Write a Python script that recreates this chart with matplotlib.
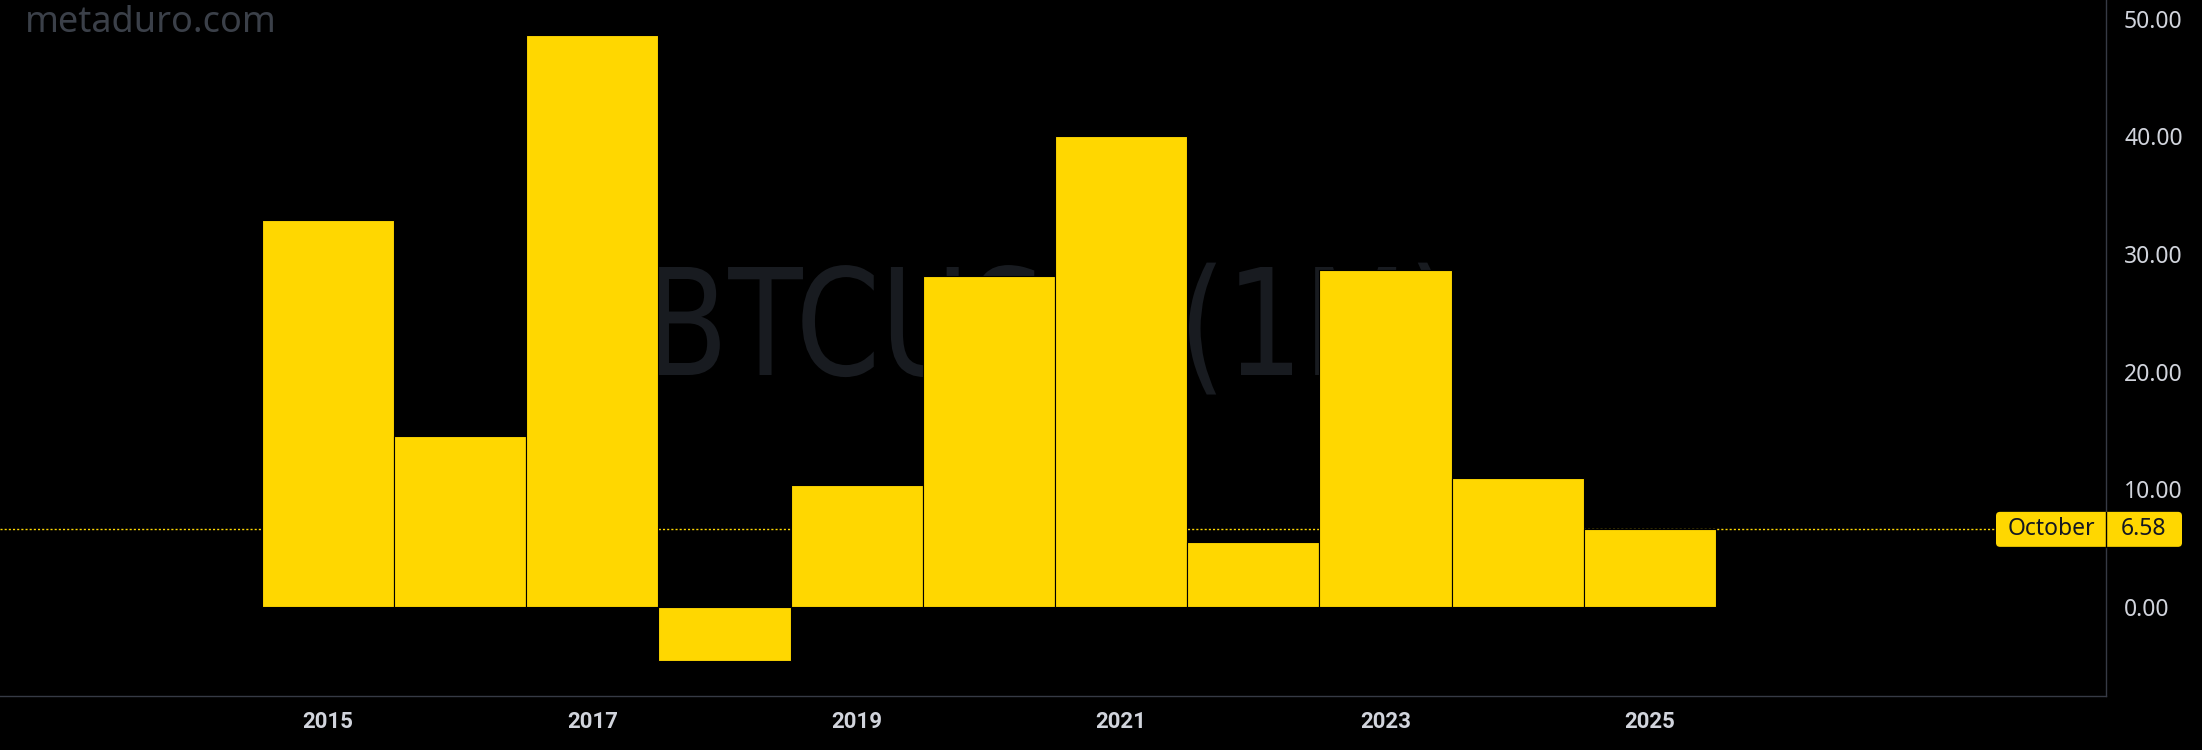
import matplotlib
matplotlib.use("Agg")
import matplotlib.pyplot as plt
from matplotlib.patches import FancyBboxPatch, PathPatch
from matplotlib.lines import Line2D
from matplotlib.textpath import TextPath
from matplotlib.font_manager import FontProperties
from matplotlib.transforms import Affine2D, IdentityTransform

# October returns (%) per year
years = [2015, 2016, 2017, 2018, 2019, 2020, 2021, 2022, 2023, 2024, 2025]
october_returns = [32.88, 14.52, 48.61, -4.59, 10.35, 28.12, 40.00, 5.50, 28.64, 10.95, 6.58]
year_ticks = [2015, 2017, 2019, 2021, 2023, 2025]
value_ticks = [0, 10, 20, 30, 40, 50]
symbol_text = "BTCUSD (1M)"
site_text = "metaduro.com"
month_name = "October"
current_value = october_returns[-1]

W, H, DPI = 2202, 750, 100
BG = "black"
BAR = "#ffd700"
TEXT = "#d1d4dc"
BORDER = "#363a45"

plt.rcParams["font.family"] = ["Noto Sans", "DejaVu Sans"]

fig = plt.figure(figsize=(W / DPI, H / DPI), dpi=DPI, facecolor=BG)
ax = fig.add_axes([0, 54 / H, 2106 / W, 696 / H])
ax.set_facecolor(BG)

# big faint symbol watermark behind the bars, squeezed to a narrow face
tp = TextPath((0, 0), symbol_text, size=100, prop=FontProperties(family="DejaVu Sans"))
ext = tp.get_extents()
sx = (1445 - 657) / ext.width
sy = 108 / 72.9
wm = PathPatch(tp, transform=Affine2D().scale(sx, sy).translate(657 - ext.x0 * sx, H - 375),
               facecolor="#181b20", edgecolor="none", zorder=0.5)
ax.add_patch(wm)

ax.axhline(current_value, color=BAR, linestyle=(0, (1.5, 1.5)), linewidth=1, zorder=1)
ax.bar(years, october_returns, width=1.0, color=BAR, edgecolor=BG, linewidth=0.8, zorder=3)

ax.set_xlim(2012.52, 2028.45)
ax.set_ylim(-7.59, 51.59)

for side in ["top", "left"]:
    ax.spines[side].set_visible(False)
for side in ["bottom", "right"]:
    ax.spines[side].set_color(BORDER)
    ax.spines[side].set_linewidth(1)

ax.yaxis.tick_right()
ax.set_yticks(value_ticks)
ax.set_yticklabels([f"{v:.2f}" for v in value_ticks])
ax.tick_params(axis="y", length=0, pad=13, labelsize=16.5, labelcolor=TEXT)
ax.set_xticks(year_ticks)
ax.set_xticklabels([str(y) for y in year_ticks])
ax.tick_params(axis="x", length=0, pad=11, labelsize=16, labelcolor=TEXT)
for lbl in ax.get_xticklabels():
    lbl.set_fontfamily(["Roboto", "DejaVu Sans"])
    lbl.set_fontweight("bold")

# site watermark top-left
fig.text(25 / W, 1 - 32 / H, site_text, ha="left", va="baseline", fontsize=26, color="#3b4049")

# price-scale style label for the last value
y_disp = ax.transData.transform((0, current_value))[1]
x_edge = ax.transAxes.transform((1, 0))[0]
box = FancyBboxPatch((1996, y_disp - 17.5), 2182 - 1996, 35,
                     boxstyle="round,pad=0,rounding_size=4", transform=IdentityTransform(),
                     facecolor=BAR, edgecolor="none", zorder=5)
fig.add_artist(box)
fig.add_artist(Line2D([x_edge, x_edge], [y_disp - 17.5, y_disp + 17.5],
                      transform=IdentityTransform(), color="black", linewidth=1, zorder=6))
fig.text((1996 + x_edge) / 2, y_disp, month_name, transform=IdentityTransform(),
         ha="center", va="center", fontsize=16.5, color="#131722", zorder=7)
fig.text((x_edge + 2182) / 2, y_disp, f"{current_value:.2f}", transform=IdentityTransform(),
         ha="center", va="center", fontsize=16.5, color="#131722", zorder=7)

fig.savefig("out.png", dpi=DPI, facecolor=BG)
